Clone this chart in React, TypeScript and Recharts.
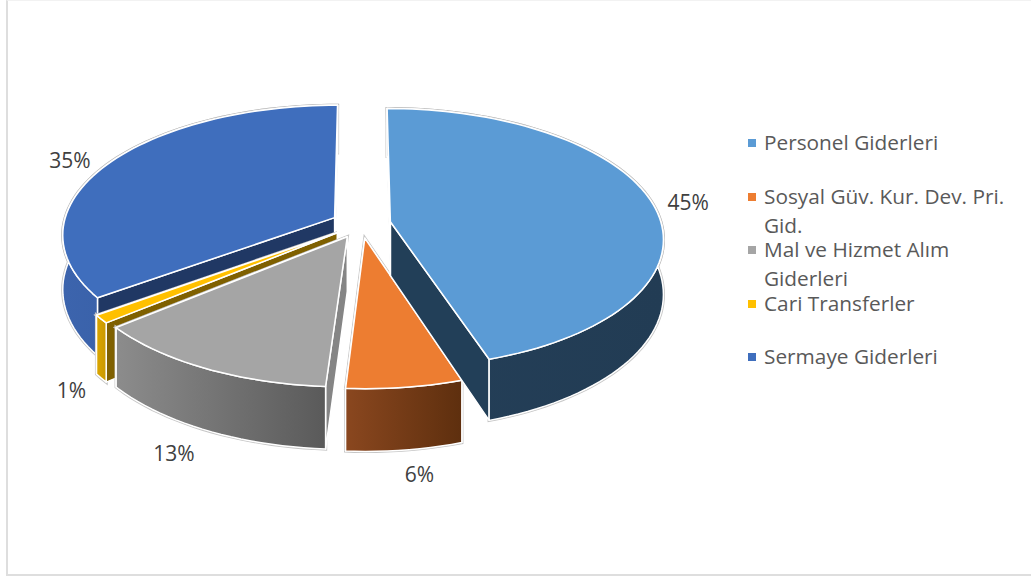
import { Legend, Pie, PieChart } from "recharts";

const CATEGORIES = [
  "Personel Giderleri",
  "Sosyal Güv. Kur. Dev. Pri. Gid.",
  "Mal ve Hizmet Alım Giderleri",
  "Cari Transferler",
  "Sermaye Giderleri",
];
const SHARES = [45, 6, 13, 1, 35];

const TOP_COLORS = ["#5b9bd5", "#ed7d31", "#a5a5a5", "#ffc000", "#3f6ebd"];
const RIM_LIGHT = ["#243f58", "#8a471f", "#8c8c8c", "#dba600", "#3c64ad"];
const RIM_DARK = ["#223c54", "#5e2f0e", "#5a5a5a", "#c99800", "#2f5597"];
const CUT_COLORS = ["#223f58", "#6e3a15", "#858585", "#7f6000", "#203864"];
// Small hand adjustments for the percentage labels, in pixels.
const LABEL_NUDGE = [
  [-2, 3],
  [10, 6],
  [-15, 7],
  [-4, 2],
  [-7, 4],
];

// Drawn back to front, so the table runs counter-clockwise from the top.
const table = CATEGORIES.map((name, i) => ({
  name,
  value: SHARES[i],
  fill: TOP_COLORS[i],
  rimLight: RIM_LIGHT[i],
  rimDark: RIM_DARK[i],
  cut: CUT_COLORS[i],
  nudge: LABEL_NUDGE[i],
  key: i,
})).reverse();

const TILT = 0.472;
const PERSPECTIVE = 0.125;
const EXPLODE = 0.11;
const DEPTH = 54;
const ARC_STEP = 2;

const rad = (deg: number) => (deg * Math.PI) / 180;

// Disc coordinates (x to the right, z away from the viewer) to screen pixels.
const project = (cx: number, cy: number, radius: number, x: number, z: number, drop = 0) => {
  const w = 1 + PERSPECTIVE * z;
  return [cx + (radius * x) / w, cy - (radius * TILT * z) / w + (drop * DEPTH) / w];
};

const toPath = (pts: number[][]) =>
  pts.map((p, i) => `${i ? "L" : "M"}${p[0].toFixed(2)} ${p[1].toFixed(2)}`).join(" ") + " Z";

const Wedge3D = (props: any) => {
  const { cx, cy, outerRadius, startAngle, endAngle } = props;
  const entry = props.payload ?? props;
  const span = Math.abs(endAngle - startAngle);
  const from = (((90 - Math.max(startAngle, endAngle)) % 360) + 360) % 360;
  const to = from + span;
  const mid = rad((from + to) / 2);
  const ox = EXPLODE * Math.sin(mid);
  const oz = EXPLODE * Math.cos(mid);

  const rimAt = (deg: number, drop: number) =>
    project(cx, cy, outerRadius, ox + Math.sin(rad(deg)), oz + Math.cos(rad(deg)), drop);
  const apex = (drop: number) => project(cx, cy, outerRadius, ox, oz, drop);

  const angles: number[] = [];
  for (let a = from; a < to; a += ARC_STEP) angles.push(a);
  angles.push(to);

  const top = toPath([apex(0), ...angles.map((a) => rimAt(a, 0))]);
  const rim = toPath([
    ...angles.map((a) => rimAt(a, 0)),
    ...[...angles].reverse().map((a) => rimAt(a, 1)),
  ]);
  const cutWall = (deg: number) => toPath([apex(0), rimAt(deg, 0), rimAt(deg, 1), apex(1)]);

  const gradId = `rim-${entry.key}`;
  const edge = { stroke: "#ffffff", strokeWidth: 1.5, strokeLinejoin: "round" as const };

  return (
    <g>
      <defs>
        <linearGradient id={gradId} x1="0" y1="0" x2="1" y2="0">
          <stop offset="0%" stopColor={entry.rimLight} />
          <stop offset="100%" stopColor={entry.rimDark} />
        </linearGradient>
      </defs>
      <path d={top} fill="none" stroke="#c6c6c6" strokeWidth={3.2} />
      <path d={rim} fill="none" stroke="#c6c6c6" strokeWidth={3.2} />
      <path d={cutWall(to)} fill={entry.cut} {...edge} />
      <path d={cutWall(from)} fill={entry.cut} {...edge} />
      <path d={rim} fill={`url(#${gradId})`} {...edge} />
      <path d={top} fill={entry.fill} {...edge} />
    </g>
  );
};

const renderShare = (props: any) => {
  const { cx, cy, outerRadius, midAngle, value } = props;
  const entry = props.payload ?? props;
  const mid = rad(90 - midAngle);
  const front = Math.cos(mid) < 0;
  const reach = EXPLODE + (front ? 1.1 : 1.15);
  const [x, y] = project(
    cx,
    cy,
    outerRadius,
    reach * Math.sin(mid),
    reach * Math.cos(mid),
    front ? 1 : 0,
  );
  const [dx, dy] = entry.nudge ?? [0, 0];
  return (
    <text
      x={x + dx}
      y={y + dy}
      textAnchor="middle"
      dominantBaseline="central"
      fontFamily="'Open Sans', sans-serif"
      fontSize={21}
      fill="#404040"
    >
      {`${value}%`}
    </text>
  );
};

const LegendList = () => (
  <div style={{ fontFamily: "'Open Sans', sans-serif", fontSize: 20.8, color: "#595959" }}>
    {CATEGORIES.map((name, i) => (
      <div key={name} style={{ position: "relative", height: 53.5, width: 262 }}>
        <span
          style={{
            position: "absolute",
            left: 0,
            top: 23,
            width: 8,
            height: 8,
            background: TOP_COLORS[i],
          }}
        />
        <div style={{ position: "absolute", left: 16, top: 12, lineHeight: "29px", width: 250 }}>
          {name}
        </div>
      </div>
    ))}
  </div>
);

export default function App() {
  return (
    <div
      style={{
        position: "absolute",
        left: 0,
        top: 0,
        width: 1031,
        height: 579,
        background: "#ffffff",
        overflow: "hidden",
      }}
    >
      <div
        style={{
          position: "absolute",
          left: 6,
          top: 0,
          width: 1030,
          height: 576,
          borderLeft: "2px solid #dedede",
          borderBottom: "2px solid #dedede",
          borderTop: "1px solid #f2f2f2",
          boxSizing: "border-box",
        }}
      />
      <PieChart width={1031} height={579} margin={{ top: 0, right: 0, bottom: 0, left: 0 }}>
        <Pie
          data={table}
          dataKey="value"
          nameKey="name"
          cx={361}
          cy={224}
          outerRadius={271}
          startAngle={90}
          endAngle={450}
          shape={Wedge3D}
          label={renderShare}
          labelLine={false}
          isAnimationActive={false}
        />
        <Legend
          content={<LegendList />}
          wrapperStyle={{ position: "absolute", left: 748, top: 116, width: 270, bottom: "auto" }}
        />
      </PieChart>
    </div>
  );
}
